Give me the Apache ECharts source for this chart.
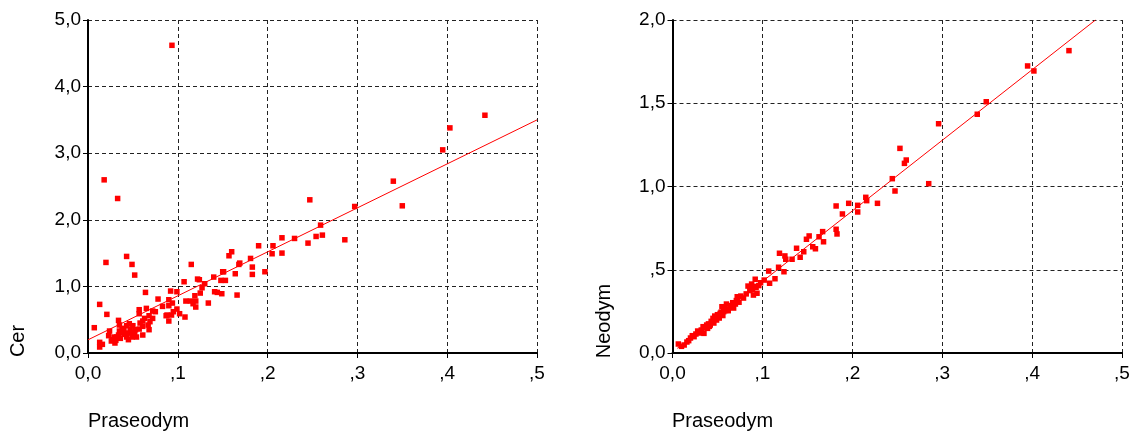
<!DOCTYPE html>
<html>
<head>
<meta charset="utf-8">
<script src="https://cdn.jsdelivr.net/npm/echarts@6/dist/echarts.min.js"></script>
<style>
html,body{margin:0;padding:0;background:#fff;}
#c{width:1133px;height:432px;}
</style>
</head>
<body>
<div id="c"></div>
<script>
// ---- Data ----
var xTickLabels = ['0,0', ',1', ',2', ',3', ',4', ',5'];
var cerTickLabels = ['0,0', '1,0', '2,0', '3,0', '4,0', '5,0'];
var neoTickLabels = ['0,0', ',5', '1,0', '1,5', '2,0'];

// Left chart: Praseodym (x) vs Cer (y)
var prLeft = [0.0935,0.018,0.033,0.020,0.043,0.049,0.052,0.013,0.007,0.021,0.013,0.016,0.013,0.064,0.078,0.092,0.090,0.099,0.107,0.115,0.124,0.130,0.127,0.125,0.119,0.120,0.117,0.114,0.109,0.108,0.102,0.099,0.094,0.090,0.088,0.095,0.093,0.090,0.087,0.072,0.065,0.057,0.057,0.068,0.072,0.069,0.067,0.061,0.061,0.068,0.061,0.054,0.050,0.047,0.046,0.043,0.040,0.034,0.035,0.038,0.035,0.034,0.036,0.032,0.029,0.030,0.023,0.024,0.048,0.049,0.043,0.045,0.053,0.057,0.120,0.122,0.134,0.140,0.141,0.144,0.149,0.148,0.150,0.151,0.153,0.157,0.160,0.164,0.166,0.168,0.169,0.181,0.183,0.183,0.190,0.197,0.205,0.206,0.216,0.216,0.230,0.245,0.247,0.254,0.261,0.259,0.286,0.297,0.340,0.350,0.395,0.403,0.442,
  0.026,0.031,0.039,0.041,0.052,0.058,0.063,0.075,0.083,0.044,0.027];
var cer = [4.62,2.60,2.32,1.36,1.45,1.33,1.17,0.73,0.38,0.58,0.16,0.13,0.09,0.91,0.81,0.93,0.80,0.92,1.07,1.33,1.10,1.04,0.98,0.90,0.86,0.69,0.74,0.78,0.78,0.54,0.59,0.66,0.75,0.71,0.57,0.62,0.57,0.48,0.56,0.63,0.67,0.65,0.59,0.56,0.52,0.47,0.42,0.48,0.40,0.35,0.27,0.24,0.41,0.36,0.44,0.41,0.36,0.49,0.42,0.37,0.33,0.27,0.22,0.24,0.24,0.15,0.26,0.33,0.31,0.24,0.24,0.20,0.35,0.36,0.78,1.11,0.75,1.14,0.92,0.91,0.89,1.09,1.22,1.22,1.09,1.46,1.52,1.19,0.87,1.33,1.35,1.42,1.29,1.18,1.61,1.22,1.49,1.61,1.73,1.50,1.72,1.65,2.30,1.75,1.77,1.92,1.70,2.20,2.58,2.21,3.05,3.38,3.57,
  0.18,0.19,0.30,0.28,0.30,0.45,0.52,0.62,0.70,0.30,0.20];
var cerFitX = [0.0, 0.5];
var cerFitY = [0.198, 3.50];

// Right chart: Praseodym (x) vs Neodym (y)
var prRight = [0.0065,0.013,0.018,0.022,0.026,0.030,0.032,0.034,0.035,0.039,0.042,0.044,0.045,0.047,0.049,0.051,0.053,0.055,0.057,0.058,0.060,0.062,0.065,0.067,0.070,0.072,0.076,0.084,0.087,0.088,0.090,0.092,0.094,0.093,0.098,0.102,0.107,0.108,0.114,0.118,0.124,0.119,0.125,0.126,0.133,0.138,0.142,0.146,0.149,0.152,0.156,0.159,0.163,0.167,0.168,0.182,0.183,0.182,0.189,0.196,0.206,0.206,0.215,0.216,0.228,0.2445,0.2475,0.253,0.258,0.260,0.285,0.296,0.339,0.349,0.395,0.402,0.441,
  0.010,0.016,0.020,0.024,0.028,0.031,0.036,0.038,0.040,0.041,0.043,0.046,0.048,0.050,0.052,0.054,0.056,0.059,0.061,0.064,0.068,0.071,0.074,0.079,0.082,0.086,0.089,0.091,0.096];
var neodym = [0.054,0.048,0.074,0.104,0.114,0.126,0.138,0.158,0.118,0.148,0.168,0.188,0.208,0.222,0.198,0.218,0.238,0.278,0.248,0.268,0.294,0.254,0.278,0.302,0.294,0.338,0.342,0.402,0.389,0.414,0.348,0.443,0.359,0.395,0.422,0.438,0.492,0.419,0.446,0.515,0.488,0.599,0.583,0.563,0.563,0.629,0.575,0.608,0.683,0.703,0.638,0.626,0.698,0.729,0.668,0.743,0.715,0.883,0.835,0.899,0.887,0.847,0.935,0.915,0.899,1.047,0.973,1.229,1.139,1.159,1.017,1.377,1.434,1.509,1.724,1.694,1.816,
  0.040,0.066,0.090,0.098,0.132,0.120,0.150,0.168,0.175,0.160,0.190,0.180,0.205,0.230,0.210,0.245,0.225,0.255,0.260,0.285,0.270,0.315,0.305,0.330,0.355,0.375,0.380,0.400,0.405];
var neoFitX = [0.0053, 0.4705];
var neoFitY = [0.028, 2.0];

function zip(a, b) { return a.map(function (v, i) { return [v, b[i]]; }); }

var FONT = 'Liberation Sans, Arial, sans-serif';
var gridLine = { show: true, lineStyle: { color: '#222', type: [4, 3], width: 1 } };

function xAxisFor(gi) {
  return {
    type: 'value', gridIndex: gi, min: 0, max: 0.5, interval: 0.1,
    axisLine: { show: true, onZero: false, lineStyle: { color: '#000', width: 2 } },
    axisTick: { show: true, inside: false, length: 5, lineStyle: { color: '#000' } },
    axisLabel: { margin: 11, color: '#000', fontSize: 19, fontFamily: FONT,
      formatter: function (v) { return xTickLabels[Math.round(v * 10)]; } },
    splitLine: gridLine
  };
}
function yAxisFor(gi, max, interval, labels) {
  return {
    type: 'value', gridIndex: gi, min: 0, max: max, interval: interval,
    axisLine: { show: true, onZero: false, lineStyle: { color: '#000', width: 2 } },
    axisTick: { show: true, inside: false, length: 5, lineStyle: { color: '#000' } },
    axisLabel: { margin: 7, color: '#000', fontSize: 19, fontFamily: FONT,
      formatter: function (v) { return labels[Math.round(v / interval)]; } },
    splitLine: gridLine
  };
}

var chart = echarts.init(document.getElementById('c'), null, { renderer: 'canvas' });
chart.setOption({
  animation: false,
  backgroundColor: '#fff',
  grid: [
    { left: 88, right: 596, top: 20, height: 333, containLabel: false },
    { left: 672.5, right: 11, top: 20, height: 333, containLabel: false }
  ],
  xAxis: [xAxisFor(0), xAxisFor(1)],
  yAxis: [yAxisFor(0, 5, 1, cerTickLabels), yAxisFor(1, 2, 0.5, neoTickLabels)],
  series: [
    { type: 'scatter', xAxisIndex: 0, yAxisIndex: 0, data: zip(prLeft, cer),
      symbol: 'rect', symbolSize: 5.5, itemStyle: { color: '#ff0000', opacity: 1 }, silent: true },
    { type: 'line', xAxisIndex: 0, yAxisIndex: 0, data: zip(cerFitX, cerFitY),
      showSymbol: false, lineStyle: { color: '#ff0000', width: 1 }, silent: true },
    { type: 'scatter', xAxisIndex: 1, yAxisIndex: 1, data: zip(prRight, neodym),
      symbol: 'rect', symbolSize: 5.5, itemStyle: { color: '#ff0000', opacity: 1 }, silent: true },
    { type: 'line', xAxisIndex: 1, yAxisIndex: 1, data: zip(neoFitX, neoFitY),
      showSymbol: false, lineStyle: { color: '#ff0000', width: 1 }, silent: true }
  ],
  graphic: [
    { type: 'text', x: 18, y: 341, rotation: Math.PI / 2,
      style: { text: 'Cer', fill: '#000', font: '20px ' + FONT, textAlign: 'center', textVerticalAlign: 'middle' } },
    { type: 'text', x: 88, y: 421,
      style: { text: 'Praseodym', fill: '#000', font: '20px ' + FONT, textAlign: 'left', textVerticalAlign: 'middle' } },
    { type: 'text', x: 604, y: 321, rotation: Math.PI / 2,
      style: { text: 'Neodym', fill: '#000', font: '20px ' + FONT, textAlign: 'center', textVerticalAlign: 'middle' } },
    { type: 'text', x: 672, y: 421,
      style: { text: 'Praseodym', fill: '#000', font: '20px ' + FONT, textAlign: 'left', textVerticalAlign: 'middle' } }
  ]
});
</script>
</body>
</html>
